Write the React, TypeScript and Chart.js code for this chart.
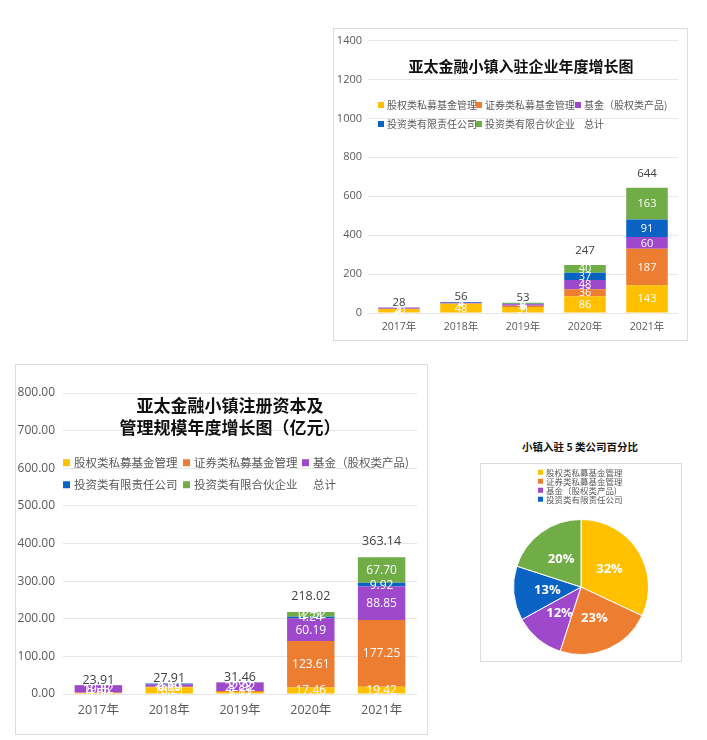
import React, { useEffect, useRef } from "react";
import { Chart, registerables } from "chart.js";

Chart.register(...registerables);

// ---------- data ----------
const YEARS = ["2017年", "2018年", "2019年", "2020年", "2021年"];
const SERIES_NAMES = [
  "股权类私募基金管理",
  "证券类私募基金管理",
  "基金（股权类产品)",
  "投资类有限责任公司",
  "投资类有限合伙企业",
];
const TOTAL_NAME = "总计";
const COLORS = ["#FFC000", "#ED7D31", "#9E48CC", "#0A62C2", "#70AD47"];

// companies entering the town (count)
const C_EQUITY_PE = [20, 48, 31, 86, 143];
const C_SEC_PE = [2, 1, 6, 36, 187];
const C_FUND = [5, 4, 8, 48, 60];
const C_LLC = [1, 3, 2, 37, 91];
const C_LP = [0, 0, 6, 40, 163];
const C_TOTAL = [28, 56, 53, 247, 644];
const C_TICKS = [0, 200, 400, 600, 800, 1000, 1200, 1400];

// registered capital & AUM (亿元)
const K_EQUITY_PE = [3.09, 18.21, 5.11, 17.46, 19.42];
const K_SEC_PE = [0.5, 0.8, 2.83, 123.61, 177.25];
const K_FUND = [19.82, 6.1, 22.92, 60.19, 88.85];
const K_LLC = [0.5, 2.8, 0.6, 4.24, 9.92];
const K_LP = [0, 0, 0, 12.52, 67.7];
const K_TOTAL = [23.91, 27.91, 31.46, 218.02, 363.14];
const K_TICKS = [0, 100, 200, 300, 400, 500, 600, 700, 800];

// pie: share of 5 company types (%)
const PIE_VALUES = [32, 23, 12, 13, 20];

const FONT = '"Open Sans", "Noto Sans CJK SC", sans-serif';
const CJK = '"Noto Sans CJK SC", sans-serif';
const TEXT = "#595959";

const stackLabels = {
  id: "stackLabels",
  afterDatasetsDraw(chart: any, _args: any, opts: any) {
    const ctx = chart.ctx;
    ctx.save();
    ctx.textAlign = "center";
    ctx.textBaseline = "middle";
    ctx.font = `${opts.size}px ${FONT}`;
    ctx.fillStyle = "#ffffff";
    chart.data.datasets.forEach((ds: any, di: number) => {
      const meta = chart.getDatasetMeta(di);
      meta.data.forEach((el: any, i: number) => {
        const v = ds.data[i];
        if (!v) return;
        const p = el.getProps(["x", "y", "base"], true);
        ctx.fillText(opts.format(v), p.x, (p.y + p.base) / 2 + 0.5);
      });
    });
    const ys = chart.scales.y;
    const zero = ys.getPixelForValue(0);
    ctx.fillStyle = "#404040";
    ctx.font = `${opts.totalSize}px ${FONT}`;
    opts.totals.forEach((t: number, i: number) => {
      const el = chart.getDatasetMeta(0).data[i];
      const yp = ys.getPixelForValue(t);
      const off = zero - yp > 40 ? opts.bigOffset : opts.smallOffset;
      ctx.fillText(opts.format(t), el.x, yp - off);
    });
    ctx.restore();
  },
};

const pieLabels = {
  id: "pieLabels",
  afterDatasetsDraw(chart: any) {
    const ctx = chart.ctx;
    ctx.save();
    ctx.textAlign = "center";
    ctx.textBaseline = "middle";
    ctx.font = `bold 13px ${FONT}`;
    ctx.fillStyle = "#ffffff";
    const ds = chart.data.datasets[0];
    chart.getDatasetMeta(0).data.forEach((arc: any, i: number) => {
      const c = arc.getCenterPoint();
      ctx.fillText(ds.data[i] + "%", c.x, c.y);
    });
    ctx.restore();
  },
};

function barDatasets(series: number[][]) {
  return series.map((d, i) => ({
    label: SERIES_NAMES[i],
    data: d,
    backgroundColor: COLORS[i],
    borderWidth: 0,
    barPercentage: 0.67,
    categoryPercentage: 1,
  }));
}

function BarChart(props: {
  w: number;
  h: number;
  series: number[][];
  totals: number[];
  ticks: number[];
  padding: any;
  yWidth: number;
  xHeight: number;
  tickSize: number;
  xSize: number;
  xPad: number;
  yPad: number;
  labelSize: number;
  totalSize: number;
  bigOffset: number;
  smallOffset: number;
  decimals: number;
}) {
  const ref = useRef<HTMLCanvasElement>(null);
  useEffect(() => {
    const fmt = (v: number) => v.toFixed(props.decimals);
    const ticks = props.ticks;
    const chart = new Chart(ref.current!, {
      type: "bar",
      data: { labels: YEARS, datasets: barDatasets(props.series) as any },
      plugins: [stackLabels as any],
      options: {
        responsive: false,
        animation: false,
        layout: { padding: props.padding },
        plugins: {
          legend: { display: false },
          title: { display: false },
          tooltip: { enabled: false },
          stackLabels: {
            size: props.labelSize,
            totalSize: props.totalSize,
            totals: props.totals,
            format: fmt,
            bigOffset: props.bigOffset,
            smallOffset: props.smallOffset,
          },
        } as any,
        scales: {
          x: {
            stacked: true,
            grid: { display: false, drawTicks: false },
            border: { display: false },
            ticks: { color: TEXT, font: { size: props.xSize, family: FONT }, padding: props.xPad },
            afterFit: (s: any) => {
              s.height = props.xHeight;
            },
          },
          y: {
            stacked: true,
            min: ticks[0],
            max: ticks[ticks.length - 1],
            ticks: {
              stepSize: ticks[1] - ticks[0],
              color: TEXT,
              font: { size: props.tickSize, family: FONT },
              padding: props.yPad,
              callback: (v: any) => Number(v).toFixed(props.decimals),
            },
            grid: { color: "#e6e6e6", drawTicks: false },
            border: { display: false },
            afterFit: (s: any) => {
              s.width = props.yWidth;
            },
          },
        },
      } as any,
    });
    return () => chart.destroy();
  }, []);
  return <canvas ref={ref} width={props.w} height={props.h} style={{ width: props.w, height: props.h, display: "block" }} />;
}

function PieChart(props: { w: number; h: number; padding: any }) {
  const ref = useRef<HTMLCanvasElement>(null);
  useEffect(() => {
    const chart = new Chart(ref.current!, {
      type: "pie",
      data: {
        labels: SERIES_NAMES,
        datasets: [{ data: PIE_VALUES, backgroundColor: COLORS, borderColor: "#ffffff", borderWidth: 1 }],
      },
      plugins: [pieLabels as any],
      options: {
        responsive: false,
        animation: false,
        layout: { padding: props.padding },
        plugins: { legend: { display: false }, tooltip: { enabled: false } },
      },
    });
    return () => chart.destroy();
  }, []);
  return <canvas ref={ref} width={props.w} height={props.h} style={{ width: props.w, height: props.h, display: "block" }} />;
}

function LegendItem(p: { x: number; y: number; color: string | null; text: string; size: number; box: number; gap: number }) {
  return (
    <div
      style={{
        position: "absolute",
        left: p.x,
        top: p.y,
        transform: "translateY(-50%)",
        display: "flex",
        alignItems: "center",
        whiteSpace: "nowrap",
        fontFamily: CJK,
        fontSize: p.size,
        color: TEXT,
        lineHeight: 1,
      }}
    >
      <span style={{ width: p.box, height: p.box, background: p.color || "transparent", marginRight: p.gap, display: "inline-block" }} />
      <span>{p.text}</span>
    </div>
  );
}

function Abs(p: { left: number; top: number; w: number; h: number; border?: boolean; children?: any }) {
  return (
    <div
      style={{
        position: "absolute",
        left: p.left,
        top: p.top,
        width: p.w,
        height: p.h,
        boxSizing: "border-box",
        border: p.border ? "1px solid #dcdcdc" : undefined,
      }}
    >
      {p.children}
    </div>
  );
}

export default function App() {
  const legend1Cols = [378, 476, 575];
  const legend2Cols = [63, 183, 302];
  const legendNames = [...SERIES_NAMES, TOTAL_NAME];
  const legendColors = [...COLORS, null];
  return (
    <div style={{ position: "absolute", left: 0, top: 0, width: 707, height: 740, background: "#fff", overflow: "hidden" }}>
      {/* Chart 1: companies */}
      <Abs left={333} top={28} w={355} h={313}>
        <BarChart
          w={355}
          h={313}
          series={[C_EQUITY_PE, C_SEC_PE, C_FUND, C_LLC, C_LP]}
          totals={C_TOTAL}
          ticks={C_TICKS}
          padding={{ left: 0, right: 10, top: 10, bottom: 6 }}
          yWidth={35}
          xHeight={22}
          tickSize={11}
          xSize={10.5}
          xPad={8}
          yPad={6}
          labelSize={11}
          totalSize={11.5}
          bigOffset={14}
          smallOffset={5}
          decimals={0}
        />
      </Abs>
      <Abs left={333} top={28} w={355} h={313} border />
      <div
        style={{
          position: "absolute",
          left: 521,
          top: 65,
          transform: "translate(-50%,-50%)",
          fontFamily: CJK,
          fontWeight: "bold",
          fontSize: 15,
          color: "#111",
          whiteSpace: "nowrap",
          lineHeight: 1,
        }}
      >
        亚太金融小镇入驻企业年度增长图
      </div>
      {legendNames.map((n, i) => (
        <LegendItem
          key={"l1" + i}
          x={legend1Cols[i % 3]}
          y={i < 3 ? 105 : 124}
          color={legendColors[i]}
          text={n}
          size={10}
          box={6}
          gap={3}
        />
      ))}

      {/* Chart 2: capital */}
      <Abs left={15} top={364} w={413} h={371}>
        <BarChart
          w={413}
          h={371}
          series={[K_EQUITY_PE, K_SEC_PE, K_FUND, K_LLC, K_LP]}
          totals={K_TOTAL}
          ticks={K_TICKS}
          padding={{ left: 0, right: 11, top: 29, bottom: 15 }}
          yWidth={48}
          xHeight={26}
          tickSize={12}
          xSize={12.5}
          xPad={9}
          yPad={8}
          labelSize={12}
          totalSize={12.5}
          bigOffset={16}
          smallOffset={5}
          decimals={2}
        />
      </Abs>
      <Abs left={15} top={364} w={413} h={371} border />
      <div
        style={{
          position: "absolute",
          left: 230,
          top: 416,
          transform: "translate(-50%,-50%)",
          fontFamily: CJK,
          fontWeight: "bold",
          fontSize: 17,
          color: "#111",
          whiteSpace: "nowrap",
          lineHeight: "22px",
          textAlign: "center",
        }}
      >
        亚太金融小镇注册资本及
        <br />
        管理规模年度增长图（亿元）
      </div>
      {legendNames.map((n, i) => (
        <LegendItem
          key={"l2" + i}
          x={legend2Cols[i % 3]}
          y={i < 3 ? 463 : 485}
          color={legendColors[i]}
          text={n}
          size={11.5}
          box={7}
          gap={4}
        />
      ))}

      {/* Chart 3: pie */}
      <div
        style={{
          position: "absolute",
          left: 580,
          top: 447,
          transform: "translate(-50%,-50%)",
          fontFamily: CJK,
          fontWeight: "bold",
          fontSize: 10.5,
          color: "#111",
          whiteSpace: "nowrap",
          lineHeight: 1,
        }}
      >
        小镇入驻 5 类公司百分比
      </div>
      <Abs left={480} top={463} w={202} h={199} border>
        <PieChart w={200} h={197} padding={{ left: 32, right: 32, top: 55, bottom: 6 }} />
      </Abs>
      {SERIES_NAMES.slice(0, 4).map((n, i) => (
        <LegendItem key={"l3" + i} x={538} y={472 + i * 9} color={COLORS[i]} text={n} size={8.5} box={5} gap={3} />
      ))}
    </div>
  );
}
